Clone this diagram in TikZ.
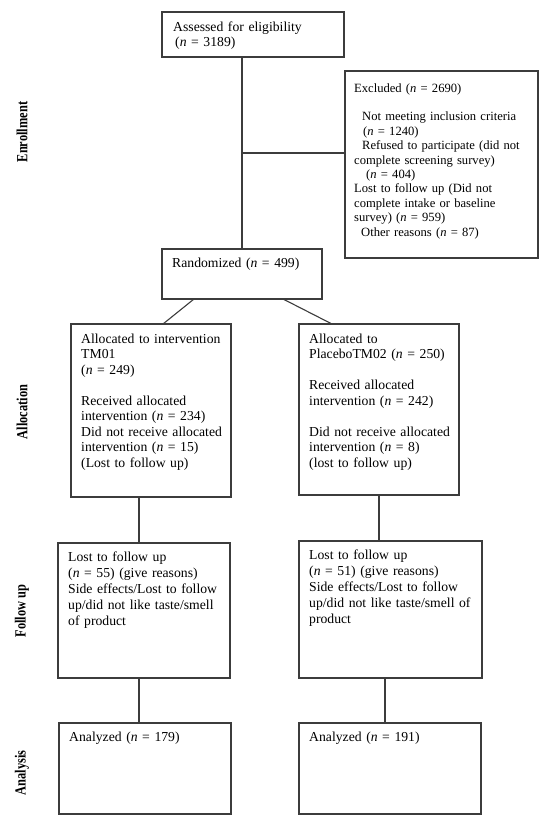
\documentclass[tikz,border=0pt]{standalone}
\usepackage{fontspec}
\setmainfont{Liberation Serif}
\usepackage{graphicx}
\definecolor{linegray}{RGB}{60,60,60}
\begin{document}
\begin{tikzpicture}[x=1pt,y=-1pt,
  box/.style={draw=linegray, line width=1.1pt, anchor=north west, inner sep=0pt, outer sep=0pt},
  txt/.style={anchor=base west, inner sep=0pt, text width=230pt, align=left, font=\fontsize{13.7}{15.5}\selectfont},
  smalltxt/.style={txt, font=\fontsize{12.6}{14.4}\selectfont},
  phase/.style={rotate=90, inner sep=0pt, font=\fontsize{15.5}{16}\selectfont\bfseries},
  conn/.style={draw=linegray, line width=1.1pt}]
\useasboundingbox (0,0) rectangle (550,828);
\fill[white] (0,0) rectangle (550,828);

% phase labels
\node[phase] (lenr) at (22,132) {\scalebox{0.8}[1]{Enrollment}};
\node[phase] (lall) at (22,412) {\scalebox{0.8}[1]{Allocation}};
\node[phase] (lfol) at (22,611) {\scalebox{0.8}[1]{Follow up}};
\node[phase] (lana) at (22,773) {\scalebox{0.8}[1]{Analysis}};

% boxes
\node[box, minimum width=182pt, minimum height=45pt] (assess) at (162,12) {};
\node[box, minimum width=193pt, minimum height=187pt] (excl) at (345,71) {};
\node[box, minimum width=160pt, minimum height=50pt] (rand) at (162,249) {};
\node[box, minimum width=160pt, minimum height=173pt] (allocL) at (71,324) {};
\node[box, minimum width=160pt, minimum height=171pt] (allocR) at (299,324) {};
\node[box, minimum width=172pt, minimum height=135pt] (followL) at (58,543) {};
\node[box, minimum width=183pt, minimum height=137pt] (followR) at (299,541) {};
\node[box, minimum width=172pt, minimum height=91pt] (anaL) at (59,723) {};
\node[box, minimum width=182pt, minimum height=91pt] (anaR) at (299,723) {};

% texts
\node[txt] (assessT) at (173,31) {Assessed for eligibility\\\hspace*{2pt}(\textit{n} = 3189)};
\node[smalltxt] (exclT) at (354,92) {Excluded (\textit{n} = 2690)\\[14.4pt]
\hspace*{8pt}Not meeting inclusion criteria\\
\hspace*{9pt}(\textit{n} = 1240)\\
\hspace*{8pt}Refused to participate (did not\\
complete screening survey)\\
\hspace*{12pt}(\textit{n} = 404)\\
Lost to follow up (Did not\\
complete intake or baseline\\
survey) (\textit{n} = 959)\\
\hspace*{7pt}Other reasons (\textit{n} = 87)};
\node[txt] (randT) at (172,267) {Randomized (\textit{n} = 499)};
\node[txt] (allocLT) at (81,343) {Allocated to intervention\\
TM01\\
(\textit{n} = 249)\\[15.5pt]
Received allocated\\
intervention (\textit{n} = 234)\\
Did not receive allocated\\
intervention (\textit{n} = 15)\\
(Lost to follow up)};
\node[txt] (allocRT) at (309,343) {Allocated to\\
PlaceboTM02 (\textit{n} = 250)\\[15.5pt]
Received allocated\\
intervention (\textit{n} = 242)\\[15.5pt]
Did not receive allocated\\
intervention (\textit{n} = 8)\\
(lost to follow up)};
\node[txt, font=\fontsize{13.7}{16}\selectfont] (followLT) at (68,561) {Lost to follow up\\
(\textit{n} = 55) (give reasons)\\
Side effects/Lost to follow\\
up/did not like taste/smell\\
of product};
\node[txt, font=\fontsize{13.7}{16}\selectfont] (followRT) at (309,559) {Lost to follow up\\
(\textit{n} = 51) (give reasons)\\
Side effects/Lost to follow\\
up/did not like taste/smell of\\
product};
\node[txt] (anaLT) at (69,741) {Analyzed (\textit{n} = 179)};
\node[txt] (anaRT) at (309,741) {Analyzed (\textit{n} = 191)};

% connectors
\coordinate (j) at (242,153);
\draw[conn] (rand.north |- assess.south) -- (rand.north);
\draw[conn] (j) -- (j -| excl.west);
\draw[conn] ([xshift=-48pt]rand.south) -- ([xshift=12pt]allocL.north);
\draw[conn] ([xshift=41pt]rand.south) -- ([xshift=-47pt]allocR.north);
\draw[conn] ([xshift=-12pt]allocL.south) -- ([xshift=-12pt]allocL.south |- followL.north);
\draw[conn] ([xshift=-12pt]allocL.south |- followL.south) -- ([xshift=-12pt]allocL.south |- anaL.north);
\draw[conn] (allocR.south) -- (allocR.south |- followR.north);
\draw[conn] ([xshift=-5.5pt]followR.south) -- ([xshift=-5.5pt]followR.south |- anaR.north);
\end{tikzpicture}
\end{document}
